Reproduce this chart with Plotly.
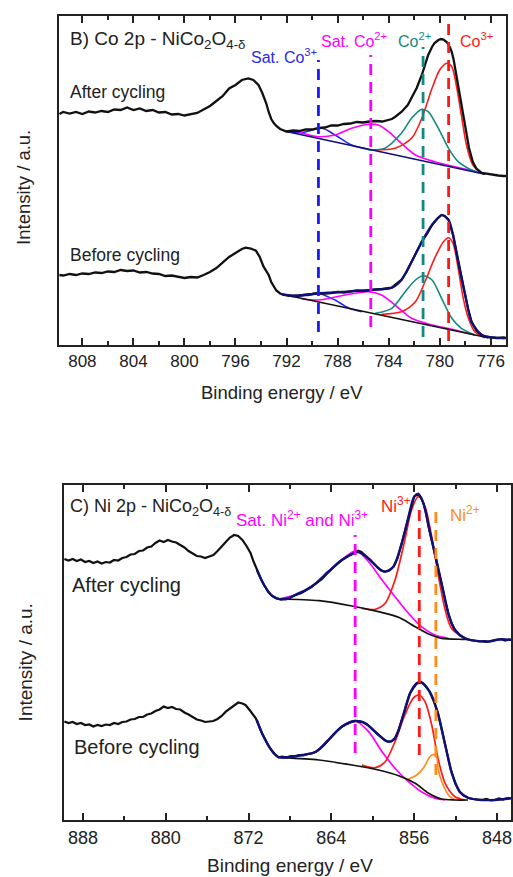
import plotly.graph_objects as go

# ---------------- Co 2p panel (B) ----------------
co_after_be = [809.8,809.5,809.0,808.5,808.0,807.5,807.0,806.5,806.0,805.5,805.0,804.5,804.0,803.5,803.0,802.5,802.0,801.5,801.0,800.5,800.0,799.5,799.0,798.5,798.0,797.5,797.0,796.5,796.0,795.5,795.0,794.6,794.2,793.9,793.6,793.4,793.2,793.0,792.8,792.5,792.2,792.0,791.5,791.0,790.5,790.0,789.5,789.0,788.5,788.0,787.5,787.0,786.5,786.0,785.5,785.0,784.5,784.0,783.75,783.5,783.0,782.5,782.2,781.8,781.4,781.1,780.9,780.6,780.4,780.1,779.9,779.7,779.45,779.2,779.05,778.9,778.7,778.5,778.3,778.1,777.9,777.7,777.4,777.1,776.7,776.3,776.0,775.7,775.4,775.0,774.8]
co_after_int = [231,233,231.5,233,231,233.5,232.5,234,233,235.5,235,237.5,235,236.5,234,235,232.5,233,230.5,231,229.5,231,232,235.5,239,244,249,256.5,260,265,266.5,265,260,252,242,233,226,222,219,216,214,213.5,214.5,214,215.5,215.5,217,217.5,219.5,219.5,221,221.5,223,222.5,223.5,224,223.5,225,226,228,233,240,247,257,270,281,290,298,302,305,306,305.5,303,298,293,285,270,256,240,224,210,197,183,176,172,171,170.5,170,169.5,169,169]

co_before_be = [809.8,809.5,809.0,808.5,808.0,807.5,807.0,806.5,806.0,805.5,805.0,804.5,804.0,803.5,803.0,802.5,802.0,801.5,801.0,800.5,800.0,799.5,799.0,798.5,798.0,797.5,797.0,796.5,796.0,795.5,795.2,794.8,794.4,794.1,793.8,793.6,793.4,793.2,793.0,792.8,792.5,792.2,791.9,791.5,791.0,790.5,790.0,789.5,789.0,788.5,788.0,787.5,787.0,786.5,786.0,785.5,785.0,784.5,784.0,783.75,783.5,783.0,782.6,782.2,781.8,781.4,781.0,780.6,780.2,779.85,779.6,779.3,778.95,778.75,778.55,778.3,778.0,777.75,777.5,777.1,776.7,776.3,775.9,775.5,775.0,774.8]
co_before_int = [70,69.5,71,70,71.5,71,72.5,72,73.5,73,75,74,74.5,72.5,73,71.5,71,69,69.5,68,67,68,67.5,70,73,77,83,88,92,96,97.3,96.5,94.3,88,78.3,74,70,63,58.3,54.5,51.5,50,49.5,49,49.5,50,51,52,51.5,52,53,52.5,53.5,54.5,54,55,55.5,56,56.5,57.3,60,65,73,83.3,93,103.3,111,120,126,130,129,125,110,97,83.3,66,50,35,23.3,14,10,8,7.5,7,7.5,7]

co_before_env_be = [792.35,791.3,789.5,788.2,785.6,783.75,783.0,782.2,781.4,780.6,779.85,779.3,778.95,778.55,778.0,777.5,776.7,775.7,774.9]
co_before_env_int = [50.7,49.3,51.7,52.7,55,57.3,65,83.3,103.3,120,130,125,110,83.3,50,23.3,10,7.3,6.7]

co_after_bg_be = [792.2, 776.45]
co_after_bg_int = [214, 170.7]
co_before_bg_be = [792.35, 776.2]
co_before_bg_int = [50.7, 7.3]

# fitted components (After)
co_a_sat3_be = [792.2,790.8,789.2,788.2,786.9,785.6]
co_a_sat3_int = [214,212.5,216.7,210,200,195.7]
co_a_sat2_be = [791.05,789.5,788.2,786.9,785.6,784.8,784.0,783.0,781.9,780.4,778.8,777.25]
co_a_sat2_int = [212.7,208.3,210,216.7,220.7,220,213.3,201.7,190,183.3,178.3,174]
co_a_co2_be = [785.6,784.3,783.0,782.2,781.4,780.9,780.1,779.3,778.55,777.5,776.45]
co_a_co2_int = [195,196.7,211.7,226.7,235.7,233.3,216.7,196.7,183.3,175,170.7]
co_a_co3_be = [785.05,783.5,782.2,781.4,780.6,780.0,779.45,779.05,778.7,778.3,777.9,777.4,776.7]
co_a_co3_int = [195,196.7,206.7,226.7,256.7,275,281.7,278.3,260,230,200,180,171.7]

# fitted components (Before)
co_b_sat3_be = [791.6,790.5,789.35,788.2,787.1,786.1]
co_b_sat3_int = [48.5,49.5,51,45,36.7,33.3]
co_b_sat2_be = [790.8,789.5,787.4,785.6,784.55,783.5,782.2,780.6,778.8,777.25]
co_b_sat2_int = [46,45,50,53.3,50,40,26.7,20,15,10]
co_b_co2_be = [785.05,783.75,782.7,781.9,781.3,780.6,779.85,779.05,778.3,777.25]
co_b_co2_int = [31.7,36.7,53.3,65,69.3,65,46.7,26.7,16.7,10]
co_b_co3_be = [784.55,783.0,781.9,781.15,780.4,779.7,779.3,778.95,778.55,778.15,777.75,777.25,776.45]
co_b_co3_int = [30.7,33.3,43.3,63.3,86.7,103.3,107.3,101.7,76.7,46.7,26.7,13.3,7.3]

co_marker_be = [789.5, 785.4, 781.3, 779.3]
co_marker_top = [285, 290, 298, 322]
co_marker_bot = [13, 18, 8, 4]
co_marker_col = ["#1a1aff", "#ff00ff", "#138a80", "#ff1a1a"]

# ---------------- Ni 2p panel (C) ----------------
ni_after_be = [889.8,889.4,889.0,888.6,888.2,887.8,887.4,887.0,886.6,886.2,885.8,885.4,885.0,884.6,884.2,883.8,883.4,883.0,882.6,882.2,881.8,881.4,881.0,880.6,880.2,879.8,879.4,879.0,878.6,878.2,877.8,877.4,877.0,876.6,876.2,875.8,875.4,875.0,874.6,874.2,873.8,873.4,873.0,872.6,872.2,871.8,871.5,871.2,870.8,870.5,870.1,869.7,869.3,868.9,868.5,868.1,867.7,867.3,866.9,866.5,866.1,865.7,865.3,864.9,864.5,864.1,863.7,863.3,862.9,862.5,862.1,861.7,861.4,861.1,860.8,860.4,860.0,859.6,859.2,858.8,858.4,858.0,857.6,857.2,856.9,856.55,856.25,856.0,855.6,855.3,855.1,854.8,854.6,854.3,854.0,853.7,853.35,853.0,852.7,852.4,852.05,851.6,851.1,850.6,850.15,849.7,849.2,848.85,848.4,848.0,847.6,847.2,846.8,846.6]
ni_after_int = [261,259.5,261,259,260.5,258,259,257,258.5,256.5,258,257.5,260,259.5,262,263,265.5,266,269,269.5,272.5,273.5,277,279.5,278,280,278.5,277.5,275,272.5,269,266.5,264,263.5,262,263.5,265,269,273,278,282.5,285,284,280,274,266.7,258,250,241,235,228,224,221.5,220.7,221,221.7,224,225.5,227,229.5,232,235,238,241,245.5,250,253.5,257,260.5,263,265,267,269.3,268,265,261.7,257,253,249.5,248.3,249.5,253.3,262,276.7,289,303.3,315,323.3,326,322,316.7,305,293.3,280,266.7,251,236.7,220,206.7,197,190,185,181.7,180,179.3,178.5,179,178.3,179.5,180.5,180.7,179.5,180.5,180]

ni_after_env_be = [871.2,870.5,869.7,868.9,868.1,867.5,865.9,864.3,863.0,861.85,861.4,860.4,859.45,858.8,858.0,857.2,856.55,856.0,855.6,855.1,854.6,854.0,853.35,852.7,852.05,851.1,850.15,848.85,847.6,846.6]
ni_after_env_int = [250,235,224,220.7,221.7,225,233.3,248.3,260,266.7,268,261.7,251.7,248.3,253.3,276.7,303.3,323.3,326,316.7,293.3,266.7,236.7,206.7,190,181.7,179.3,178.3,180.7,180]

ni_after_bg_be = [869.1,865.2,862.0,859.45,857.5,855.9,854.6,853.35,851.4,850.8]
ni_after_bg_int = [221,219.3,214,208.3,202.7,193.3,186,181.7,180.7,180.7]

ni_a_sat_be = [869.1,867.5,865.9,864.3,863.0,861.6,860.4,859.1,857.85,856.55,855.3,854.0,852.7]
ni_a_sat_int = [221,225,233.3,248.3,260,269.3,258.3,240,223.3,206.7,193.3,185,181.7]
ni_a_ni3_be = [861.05,859.75,858.8,857.85,856.9,856.25,855.6,854.95,854.3,853.7,853.0,852.4,851.4]
ni_a_ni3_int = [211.7,210.7,216.7,240,280,310,323.3,313.3,283.3,246.7,210,191.7,183.3]

ni_before_be = [889.8,889.4,889.0,888.6,888.2,887.8,887.4,887.0,886.6,886.2,885.8,885.4,885.0,884.6,884.2,883.8,883.4,883.0,882.6,882.2,881.8,881.4,881.0,880.6,880.2,879.8,879.4,879.0,878.6,878.2,877.8,877.4,877.0,876.6,876.2,875.8,875.4,875.0,874.6,874.2,873.8,873.4,873.0,872.6,872.3,871.9,871.6,871.3,871.0,870.7,870.3,870.0,869.6,869.1,868.75,868.3,867.9,867.5,867.1,866.7,866.3,865.9,865.5,865.1,864.7,864.3,863.9,863.5,863.0,862.6,862.2,861.7,861.3,860.9,860.5,860.0,859.6,859.2,858.8,858.5,858.2,857.85,857.5,857.05,856.7,856.4,856.0,855.75,855.3,854.9,854.5,854.1,853.7,853.35,853.0,852.7,852.4,852.0,851.6,851.2,850.8,850.3,849.8,849.5,849.0,848.6,848.2,847.8,847.4,847.0,846.6]
ni_before_int = [98.5,97,98,96,97,95,95.5,93.5,95,94,95.5,95,97,96,98,98.5,100.5,101,103,103,105.5,106.5,109,110.5,113.5,112,113,111,110.5,107.5,105.5,103,100.5,99.5,98,98.5,99,101,104,108.3,111.5,115,117.5,116.5,115,110,106,101.7,94,86.7,79,73,67,62.7,63.3,62.5,64,63.5,65,64.5,66,66.5,68.3,71,75,80,84,88.5,93.3,95.5,97.5,99,98.5,97.5,95,90.5,86.5,83,79.5,78.3,78.5,81.7,90,105,117,126.7,133,136.7,137.7,134,128.3,119,106.7,91,75,60,48.3,36,28.3,24.5,22.3,21,20.5,20,21,19.5,20,21.5,20.5,22,21.7]

ni_before_env_be = [871.2,870.7,870.0,869.1,868.75,866.8,865.5,864.3,863.0,861.7,860.7,859.45,858.5,857.85,857.05,856.4,855.75,855.3,854.5,853.7,853.0,852.4,851.6,850.8,849.5,848.2,846.6]
ni_before_env_int = [100,86.7,73,62.7,62.5,65,68.3,80,93.3,99,96.7,85,78.3,81.7,105,126.7,136.7,137.7,128.3,106.7,75,48.3,28.3,22.3,20,20,21.7]

ni_before_bg_be = [868.75,865.2,862.0,859.45,857.5,855.9,854.6,853.35,852.05,850.8]
ni_before_bg_int = [62.3,60,55,50,44.3,36.7,26.7,21,20,20]

ni_b_sat_be = [868.75,866.8,865.5,864.3,863.0,861.7,860.4,859.1,857.85,856.55,855.3,854.0,853.0]
ni_b_sat_int = [62.3,65,68.3,80,93.3,99,88.3,68.3,51.7,38.3,28.3,21.7,20]
ni_b_ni3_be = [861.05,859.75,858.8,857.85,856.9,856.1,855.5,854.95,854.3,853.7,853.0,852.05,851.1]
ni_b_ni3_int = [55,52.3,58.3,78.3,105,121.7,125,118.3,95,61.7,36.7,23.3,20]
ni_b_ni2_be = [856.55,855.75,855.1,854.5,854.15,853.8,853.7,853.2,852.55,852.0]
ni_b_ni2_int = [41,45,52,63,65.7,62,51.7,35,23.3,20]

ni_marker_be = [861.7, 855.5, 853.9]
ni_marker_top = [285, 317, 315]
ni_marker_bot = [67, 65, 45]
ni_marker_col = ["#ff00ff", "#ff1a1a", "#ff8c1a"]

# ---------------- figure ----------------
FONT = "Liberation Sans, Arial, sans-serif"
TXT = "#222222"
NAVY = "#10107a"
fig = go.Figure()

def line(x, y, color, width, ax, shape="spline", dash=None):
    fig.add_trace(go.Scatter(x=x, y=y, mode="lines", xaxis=ax[0], yaxis=ax[1],
                             line=dict(color=color, width=width, shape=shape, dash=dash,
                                       smoothing=0.8 if shape == "spline" else None),
                             hoverinfo="skip", showlegend=False))

A1 = ("x", "y")
A2 = ("x2", "y2")

# Co: components
for be, it, c in [(co_a_sat3_be, co_a_sat3_int, "#2424ff"), (co_a_sat2_be, co_a_sat2_int, "#ff00ff"),
                  (co_a_co2_be, co_a_co2_int, "#138a80"), (co_a_co3_be, co_a_co3_int, "#ff1a1a"),
                  (co_b_sat3_be, co_b_sat3_int, "#2424ff"), (co_b_sat2_be, co_b_sat2_int, "#ff00ff"),
                  (co_b_co2_be, co_b_co2_int, "#138a80"), (co_b_co3_be, co_b_co3_int, "#ff1a1a")]:
    line(be, it, c, 1.6, A1)
line(co_after_bg_be, co_after_bg_int, NAVY, 1.6, A1, "linear")
line(co_before_bg_be, co_before_bg_int, "#111111", 1.6, A1, "linear")
line(co_after_be, co_after_int, "#111111", 2.3, A1, "linear")
line(co_before_be, co_before_int, "#111111", 2.3, A1, "linear")
line(co_before_env_be, co_before_env_int, NAVY, 2.2, A1)
for e, t, b, c in zip(co_marker_be, co_marker_top, co_marker_bot, co_marker_col):
    line([e, e], [b, t], c, 2.8, A1, "linear", "11px,7px")

# Ni: components
for be, it, c in [(ni_a_sat_be, ni_a_sat_int, "#ff00ff"), (ni_a_ni3_be, ni_a_ni3_int, "#ff1a1a"),
                  (ni_b_sat_be, ni_b_sat_int, "#ff00ff"), (ni_b_ni3_be, ni_b_ni3_int, "#ff1a1a"),
                  (ni_b_ni2_be, ni_b_ni2_int, "#ff8c1a")]:
    line(be, it, c, 1.7, A2)
line(ni_after_bg_be, ni_after_bg_int, "#111111", 1.7, A2)
line(ni_before_bg_be, ni_before_bg_int, "#111111", 1.7, A2)
line(ni_after_be, ni_after_int, "#111111", 2.2, A2, "linear")
line(ni_before_be, ni_before_int, "#111111", 2.2, A2, "linear")
line(ni_after_env_be, ni_after_env_int, NAVY, 2.3, A2)
line(ni_before_env_be, ni_before_env_int, NAVY, 2.3, A2)
for e, t, b, c in zip(ni_marker_be, ni_marker_top, ni_marker_bot, ni_marker_col):
    line([e, e], [b, t], c, 2.8, A2, "linear", "11px,7px")

W, H = 513, 877
axcommon = dict(showline=True, linecolor="#222222", linewidth=2, mirror="ticks",
                ticks="inside", tickcolor="#222222", tickwidth=1.5, showgrid=False,
                zeroline=False)

fig.update_layout(
    width=W, height=H, margin=dict(l=0, r=0, t=0, b=0),
    paper_bgcolor="white", plot_bgcolor="white", showlegend=False,
    xaxis=dict(domain=[59/W, 508/W], range=[809.85, 774.8], anchor="y",
               dtick=4, ticklen=7,
               tickfont=dict(family=FONT, color=TXT, size=17),
               minor=dict(dtick=2, ticklen=4, ticks="inside", tickcolor="#222222"),
               **axcommon),
    yaxis=dict(domain=[1-345/H, 1-16/H], range=[0, 329], anchor="x",
               showticklabels=False, showline=True, mirror=True, linecolor="#222222",
               linewidth=2, ticks="", showgrid=False, zeroline=False),
    xaxis2=dict(domain=[64/W, 1.0], range=[889.86, 846.64], anchor="y2",
                dtick=8, ticklen=7,
                tickfont=dict(family=FONT, color=TXT, size=18),
                minor=dict(dtick=4, ticklen=4, ticks="inside", tickcolor="#222222"),
                **axcommon),
    yaxis2=dict(domain=[1-820/H, 1-485/H], range=[0, 335], anchor="x2",
                showticklabels=False, showline=True, mirror=True, linecolor="#222222",
                linewidth=2, ticks="", showgrid=False, zeroline=False),
)

def ann(text, x, y, xref, yref, size, color=TXT, xanchor="left", angle=0):
    fig.add_annotation(text=text, x=x, y=y, xref=xref, yref=yref, showarrow=False,
                       xanchor=xanchor, yanchor="middle", textangle=angle,
                       font=dict(family=FONT, size=size, color=color))

# Co panel texts
ann("B) Co 2p - NiCo<sub>2</sub>O<sub>4-δ</sub>", 809.15, 305, "x", "y", 19)
ann("Sat. Co<sup>3+</sup>", 794.94, 289, "x", "y", 16, "#2a2ae6")
ann("Sat. Co<sup>2+</sup>", 789.47, 305, "x", "y", 16, "#ff00ff")
ann("Co<sup>2+</sup>", 783.46, 305, "x", "y", 16, "#138a80")
ann("Co<sup>3+</sup>", 778.55, 305, "x", "y", 16, "#ff1a1a")
ann("After cycling", 809.15, 253, "x", "y", 17.5)
ann("Before cycling", 809.15, 90, "x", "y", 17.5)
ann("Binding energy / eV", 0.552, 1-392/H, "paper", "paper", 18.5, xanchor="center")
ann("Intensity / a.u.", 23/W, 1-187/H, "paper", "paper", 18.5, xanchor="center", angle=-90)

# Ni panel texts
ann("C) Ni 2p - NiCo<sub>2</sub>O<sub>4-δ</sub>", 889.47, 313, "x2", "y2", 18)
ann("Sat. Ni<sup>2+</sup> and Ni<sup>3+</sup>", 873.4, 301, "x2", "y2", 17, "#ff00ff")
ann("Ni<sup>3+</sup>", 859.44, 315, "x2", "y2", 17, "#ff1a1a")
ann("Ni<sup>2+</sup>", 852.7, 306, "x2", "y2", 17, "#ff8c1a")
ann("After cycling", 889.28, 235, "x2", "y2", 20)
ann("Before cycling", 889.09, 73, "x2", "y2", 20)
ann("Binding energy / eV", 291/W, 1-865/H, "paper", "paper", 19, xanchor="center")
ann("Intensity / a.u.", 25.5/W, 1-662/H, "paper", "paper", 19, xanchor="center", angle=-90)

fig.write_html("out.html")
